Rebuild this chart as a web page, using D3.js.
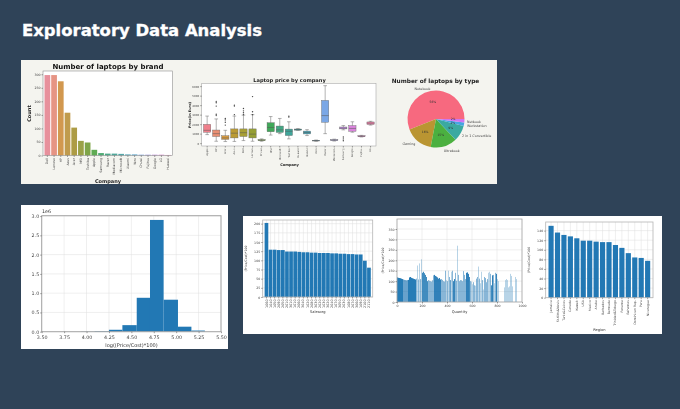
<!DOCTYPE html>
<html>
<head>
<meta charset="utf-8">
<script src="https://cdn.jsdelivr.net/npm/d3@7"></script>
<style>
  html, body { margin: 0; padding: 0; background: #2f4358; }
  svg { display: block; }
  text { font-family: "DejaVu Sans", sans-serif; }
</style>
</head>
<body>
<svg id="chart" width="680" height="409"></svg>
<script>
// brand counts
const brands = [`Dell`, `Lenovo`, `HP`, `Asus`, `Acer`, `MSI`, `Toshiba`, `Apple`, `Samsung`, `Razer`, `Mediacom`, `Microsoft`, `Xiaomi`, `Vero`, `Chuwi`, `Fujitsu`, `Google`, `LG`, `Huawei`]
const brandCounts = [297, 297, 274, 158, 103, 54, 48, 21, 9, 7, 7, 6, 4, 4, 3, 3, 3, 3, 2]
const brandTicks = [0, 50, 100, 150, 200, 250, 300]

// price by company: q1, median, q3, whiskers, outliers
const companies = [`Apple`, `HP`, `Acer`, `Asus`, `Dell`, `Lenovo`, `Chuwi`, `MSI`, `Microsoft`, `Toshiba`, `Huawei`, `Xiaomi`, `Vero`, `Razer`, `Mediacom`, `Samsung`, `Google`, `Fujitsu`, `LG`]
const priceQ1 = [1150, 700, 400, 550, 700, 550, 270, 1200, 1130, 800, 1370, 970, 230, 2200, 280, 1500, 1250, 680, 1970]
const priceMedian = [1350, 1000, 550, 1050, 1100, 950, 310, 1650, 1400, 1250, 1430, 1120, 260, 2900, 320, 1580, 1550, 720, 2100]
const priceQ3 = [1980, 1380, 780, 1500, 1500, 1500, 370, 2150, 1800, 1480, 1490, 1270, 290, 4500, 370, 1700, 1850, 780, 2230]
const priceLow = [900, 200, 170, 180, 270, 200, 200, 850, 1000, 450, 1350, 800, 200, 1000, 220, 1400, 1150, 650, 1900]
const priceHigh = [2850, 2550, 1350, 2850, 2950, 3000, 450, 2800, 2600, 2250, 1530, 1420, 330, 6050, 420, 1850, 2250, 820, 2300]
const priceOutliers = [[], [2900, 3050, 3900, 4250, 4400], [1900, 2200, 2450, 2600], [3000, 3900, 4000], [3000, 3200, 3400, 3650], [3000, 3300, 4900], [], [], [], [2750, 2850], [], [], [], [], [], [250, 450, 650], [], [], []]
const priceTicks = [0, 1000, 2000, 3000, 4000, 5000, 6000]

// laptop types
const laptopTypes = [`Notebook`, `Gaming`, `Ultrabook`, `2 in 1 Convertible`, `Workstation`, `Netbook`]
const typeShares = [56, 16, 15, 9, 2, 2]

// log(Price/Cost*100) histogram
const binEdges = [3.94, 4.09, 4.25, 4.40, 4.56, 4.708, 4.86, 5.02, 5.17, 5.32]
const binCounts = [0.005, 0.015, 0.05, 0.17, 0.88, 2.9, 0.83, 0.13, 0.03]
const histXTicks = [3.5, 3.75, 4, 4.25, 4.5, 4.75, 5, 5.25, 5.5]
const histYTicks = [0, 0.5, 1, 1.5, 2, 2.5, 3]

// margin by sales org
const salesOrgs = [`1060`, `1040`, `1050`, `2090`, `2050`, `2010`, `3010`, `1010`, `2060`, `3040`, `1020`, `2080`, `3030`, `2020`, `1030`, `3020`, `2040`, `1070`, `3050`, `2030`, `1080`, `2070`, `3060`, `1090`, `2100`, `2110`]
const salesOrgMargin = [202, 129, 129, 128, 128, 124, 124, 124, 123, 122, 122, 121, 121, 120, 120, 120, 119, 119, 118, 118, 117, 117, 116, 116, 99, 80]
const marginTicks = [0, 25, 50, 75, 100, 125, 150, 175, 200]

// margin by quantity, one reading per 8 units, with how many records land there
const quantityMargin = [118, 116, 115, 114, 112, 110, 108, 106, 105, 104, 105, 106, 118, 120, 116, 114, 112, 110, 108, 112, 175, 108, 185, 110, 205, 140, 145, 138, 130, 120, 100, 105, 102, 100, 98, 104, 128, 130, 125, 122, 118, 112, 115, 108, 110, 106, 100, 98, 150, 104, 100, 150, 120, 105, 145, 150, 100, 110, 140, 102, 270, 130, 100, 105, 104, 100, 148, 130, 110, 140, 142, 135, 120, 100, 98, 85, 95, 80, 78, 112, 120, 170, 112, 90, 145, 105, 60, 120, 115, 95, 110, 140, 145, 135, 80, 128, 130, 90, 140, 135, 110, 100, 0, 0, 0, 0, 0, 70, 105, 110, 105, 70, 75, 135, 125, 75, 0, 0, 120, 110, 0, 0, 0, 0, 0]
const quantityCounts = [9, 9, 9, 9, 9, 9, 3, 3, 3, 3, 3, 9, 9, 9, 9, 9, 9, 9, 9, 2, 1, 2, 1, 2, 1, 5, 5, 5, 5, 5, 5, 2, 2, 2, 2, 2, 2, 7, 7, 7, 7, 7, 7, 7, 2, 2, 2, 2, 2, 1, 2, 1, 2, 3, 1, 2, 6, 6, 2, 2, 1, 2, 2, 2, 2, 2, 2, 2, 2, 7, 7, 7, 5, 2, 1, 1, 2, 2, 1, 2, 2, 1, 2, 1, 1, 2, 1, 2, 2, 2, 2, 1, 1, 2, 5, 7, 2, 1, 2, 6, 1, 1, 0, 0, 0, 0, 0, 1, 1, 1, 1, 1, 1, 1, 1, 1, 0, 0, 1, 1, 0, 0, 0, 0, 0]
const quantityXTicks = [0, 200, 400, 600, 800, 1000]
const quantityYTicks = [0, 50, 100, 150, 200, 250, 300, 350]

// margin by region
const regions = [`Jamaica`, `St.Kitts&Nevis`, `Turks&Caicos`, `Canada`, `Kuwait`, `USA`, `Mexico`, `Aruba`, `Barbados`, `Bermuda`, `Trinidad&Tobago`, `Panama`, `Bahamas`, `Dominican Rep.`, `Peru`, `Nicaragua`]
const regionMargin = [150, 136, 131, 128, 124, 119, 119, 117, 116, 116, 110, 104, 93, 84, 83, 77]
const regionTicks = [0, 20, 40, 60, 80, 100, 120, 140]

const brandColors = [`#e7909c`, `#e69484`, `#d2984f`, `#c09b4e`, `#ad9c45`, `#9aa146`, `#7fa548`, `#5fab52`, `#4fab73`, `#4ea98a`, `#50a79a`, `#52a6a8`, `#55a5b6`, `#5da5ca`, `#7ea4df`, `#a39bdf`, `#c28fdc`, `#d98bcf`, `#e48db6`]
const boxColors = [`#f0808c`, `#ea8f73`, `#d79a3f`, `#bb9b35`, `#a89f35`, `#969f34`, `#7fa83a`, `#41a85a`, `#43a784`, `#3fa59a`, `#41a4a8`, `#44a4b6`, `#55a4cb`, `#7aa7e6`, `#a69ce8`, `#c68ee6`, `#da84dc`, `#e67fc4`, `#ee82ab`]
const pieColors = [`#f7697f`, `#ba9530`, `#4cb03f`, `#3aa9a1`, `#45a5e2`, `#cd75f2`]
const BAR_BLUE = `#2178b4`

const page = d3.select(`#chart`)
page.append(`defs`).append(`filter`)
  .attr(`id`, `soft`).attr(`x`, 0).attr(`y`, 0).attr(`width`, `100%`).attr(`height`, `100%`)
  .append(`feGaussianBlur`).attr(`stdDeviation`, 0.3)

//
// Background and panels
//

page.append(`rect`).attr(`width`, 680).attr(`height`, 409).attr(`fill`, `#2f4358`)
page.append(`text`)
  .attr(`x`, 22).attr(`y`, 36)
  .attr(`font-size`, 16.5).attr(`font-weight`, `bold`).attr(`fill`, `#ffffff`)
  .attr(`stroke`, `#ffffff`).attr(`stroke-width`, 0.35)
  .attr(`textLength`, 240).attr(`lengthAdjust`, `spacingAndGlyphs`)
  .text(`Exploratory Data Analysis`)

// the source picture is a soft low-res screenshot, so the charts get a slight blur
const svg = page.append(`g`).attr(`filter`, `url(#soft)`)
svg.append(`rect`).attr(`x`, 21).attr(`y`, 60).attr(`width`, 476).attr(`height`, 124).attr(`fill`, `#f4f4ef`)
svg.append(`rect`).attr(`x`, 21).attr(`y`, 205).attr(`width`, 207).attr(`height`, 144).attr(`fill`, `#ffffff`)
svg.append(`rect`).attr(`x`, 243).attr(`y`, 216).attr(`width`, 419).attr(`height`, 118).attr(`fill`, `#ffffff`)

//
// Helpers
//

function frame(box, color, width) {
  svg.append(`rect`)
    .attr(`x`, box.x0).attr(`y`, box.y0)
    .attr(`width`, box.x1 - box.x0).attr(`height`, box.y1 - box.y0)
    .attr(`fill`, `none`).attr(`stroke`, color).attr(`stroke-width`, width)
}

function styleAxis(g, size, color) {
  g.selectAll(`.domain`).remove()
  g.selectAll(`.tick line`).attr(`stroke`, color).attr(`stroke-width`, 0.5)
  g.selectAll(`text`).attr(`font-size`, size).attr(`fill`, color)
}

function yAxis(box, y, ticks, size, fmt) {
  const g = svg.append(`g`).attr(`transform`, `translate(${box.x0},0)`)
    .call(d3.axisLeft(y).tickValues(ticks).tickSize(1.5).tickPadding(1).tickFormat(fmt || d3.format(`d`)))
  styleAxis(g, size, `#444`)
}

function bandAxis(box, x, size) {
  const g = svg.append(`g`).attr(`transform`, `translate(0,${box.y1})`)
    .call(d3.axisBottom(x).tickSize(1.5))
  styleAxis(g, size, `#444`)
  g.selectAll(`text`)
    .attr(`transform`, `rotate(-90)`)
    .attr(`text-anchor`, `end`)
    .attr(`x`, -2.5).attr(`y`, 0).attr(`dy`, `0.32em`)
}

function hGrid(box, y, ticks) {
  svg.append(`g`).selectAll(`line`).data(ticks).join(`line`)
    .attr(`x1`, box.x0).attr(`x2`, box.x1)
    .attr(`y1`, (d) => y(d)).attr(`y2`, (d) => y(d))
    .attr(`stroke`, `#dedede`).attr(`stroke-width`, 0.5)
}

function vGrid(box, xs) {
  svg.append(`g`).selectAll(`line`).data(xs).join(`line`)
    .attr(`x1`, (d) => d).attr(`x2`, (d) => d)
    .attr(`y1`, box.y0).attr(`y2`, box.y1)
    .attr(`stroke`, `#dedede`).attr(`stroke-width`, 0.5)
}

function label(x, y, text, size, opts = {}) {
  const t = svg.append(`text`)
    .attr(`x`, x).attr(`y`, y)
    .attr(`text-anchor`, opts.anchor || `middle`)
    .attr(`font-size`, size)
    .attr(`font-weight`, opts.weight || `normal`)
    .attr(`fill`, opts.color || `#333`)
    .text(text)
  if (opts.rotate) t.attr(`transform`, `rotate(${opts.rotate},${x},${y})`)
  return t
}

function blueBars(box, cats, values, maxY, ticks, xTitle, xTitleY, padding, labelSize) {
  const x = d3.scaleBand().domain(cats).range([box.x0 + 1.5, box.x1 - 1.5]).padding(padding)
  const y = d3.scaleLinear().domain([0, maxY]).range([box.y1, box.y0])
  vGrid(box, cats.map((c) => x(c) + x.bandwidth() / 2))
  hGrid(box, y, ticks)
  svg.append(`g`).selectAll(`rect`).data(values).join(`rect`)
    .attr(`x`, (d, i) => x(cats[i])).attr(`width`, x.bandwidth())
    .attr(`y`, (d) => y(d)).attr(`height`, (d) => box.y1 - y(d))
    .attr(`fill`, BAR_BLUE)
  frame(box, `#b5b5b5`, 0.8)
  yAxis(box, y, ticks, 3.2)
  bandAxis(box, x, labelSize)
  label((box.x0 + box.x1) / 2, xTitleY, xTitle, 3.6)
  label(box.x0 - 15.5, (box.y0 + box.y1) / 2, `(Price/Cost)*100`, 3.2, { rotate: -90 })
}

//
// Number of laptops by brand
//

function drawBrands() {
  const box = { x0: 43, x1: 172.5, y0: 71, y1: 155.5 }
  const x = d3.scaleBand().domain(brands).range([box.x0 + 0.5, box.x1 - 0.5]).padding(0.15)
  const y = d3.scaleLinear().domain([0, 312]).range([box.y1, box.y0])
  svg.append(`rect`).attr(`x`, box.x0).attr(`y`, box.y0).attr(`width`, box.x1 - box.x0).attr(`height`, box.y1 - box.y0).attr(`fill`, `#fff`)
  svg.append(`g`).selectAll(`rect`).data(brandCounts).join(`rect`)
    .attr(`x`, (d, i) => x(brands[i])).attr(`width`, x.bandwidth())
    .attr(`y`, (d) => y(d)).attr(`height`, (d) => box.y1 - y(d))
    .attr(`fill`, (d, i) => brandColors[i])
  frame(box, `#8f8f8f`, 0.6)
  yAxis(box, y, brandTicks, 3.2)
  bandAxis(box, x, 3.2)
  label(108, 69, `Number of laptops by brand`, 7, { weight: `bold`, color: `#111` })
  label(108, 183, `Company`, 5, { weight: `bold`, color: `#222` })
  label(31, 113.5, `Count`, 5, { weight: `bold`, color: `#222`, rotate: -90 })
}

//
// Laptop price by company
//

function drawPrices() {
  const box = { x0: 201.7, x1: 376, y0: 83.3, y1: 146 }
  const x = d3.scaleBand().domain(companies).range([box.x0, box.x1]).padding(0.2)
  const y = d3.scaleLinear().domain([-300, 6300]).range([box.y1, box.y0])
  svg.append(`rect`).attr(`x`, box.x0).attr(`y`, box.y0).attr(`width`, box.x1 - box.x0).attr(`height`, box.y1 - box.y0).attr(`fill`, `#fff`)
  const cx = (i) => x(companies[i]) + x.bandwidth() / 2
  const g = svg.append(`g`)
  companies.forEach((c, i) => {
    g.append(`line`).attr(`x1`, cx(i)).attr(`x2`, cx(i))
      .attr(`y1`, y(priceLow[i])).attr(`y2`, y(priceHigh[i]))
      .attr(`stroke`, `#666`).attr(`stroke-width`, 0.5)
    for (const v of [priceLow[i], priceHigh[i]]) {
      g.append(`line`).attr(`x1`, cx(i) - x.bandwidth() / 4).attr(`x2`, cx(i) + x.bandwidth() / 4)
        .attr(`y1`, y(v)).attr(`y2`, y(v))
        .attr(`stroke`, `#666`).attr(`stroke-width`, 0.5)
    }
    g.append(`rect`).attr(`x`, x(c)).attr(`width`, x.bandwidth())
      .attr(`y`, y(priceQ3[i])).attr(`height`, y(priceQ1[i]) - y(priceQ3[i]))
      .attr(`fill`, boxColors[i]).attr(`stroke`, `#666`).attr(`stroke-width`, 0.4)
    g.append(`line`).attr(`x1`, x(c)).attr(`x2`, x(c) + x.bandwidth())
      .attr(`y1`, y(priceMedian[i])).attr(`y2`, y(priceMedian[i]))
      .attr(`stroke`, `#555`).attr(`stroke-width`, 0.5)
    g.selectAll(null).data(priceOutliers[i]).join(`circle`)
      .attr(`cx`, cx(i)).attr(`cy`, (d) => y(d)).attr(`r`, 0.7).attr(`fill`, `#444`)
  })
  frame(box, `#a8a8a8`, 0.6)
  yAxis(box, y, priceTicks, 2.7)
  bandAxis(box, x, 2.5)
  label(289.5, 82, `Laptop price by company`, 5.1, { weight: `bold`, color: `#222` })
  label(289.5, 166, `Company`, 3.6, { weight: `bold`, color: `#222` })
  label(190.5, 115, `Price(in Euro)`, 3.4, { weight: `bold`, color: `#222`, rotate: -90 })
}

//
// Number of laptops by type
//

function drawTypes() {
  const center = [436, 119]
  const radius = 28.5
  // matplotlib starts at 3 o'clock and turns counter-clockwise
  const pie = d3.pie().sort(null).startAngle(Math.PI / 2).endAngle(Math.PI / 2 - 2 * Math.PI)
  const arc = d3.arc().innerRadius(0).outerRadius(radius)
  const arcs = pie(typeShares)
  const g = svg.append(`g`).attr(`transform`, `translate(${center})`)
  g.selectAll(`path`).data(arcs).join(`path`)
    .attr(`d`, arc).attr(`fill`, (d, i) => pieColors[i])
  const inner = d3.arc().innerRadius(radius * 0.6).outerRadius(radius * 0.6)
  // the two 2% labels sit on top of each other, push them apart a little
  const nudge = [0, 0, 0, 0, 1.2, -1.2]
  g.selectAll(`text.pct`).data(arcs).join(`text`)
    .attr(`class`, `pct`)
    .attr(`transform`, (d, i) => {
      const [px, py] = inner.centroid(d)
      return `translate(${px},${py + nudge[i]})`
    })
    .attr(`text-anchor`, `middle`).attr(`dy`, `0.35em`)
    .attr(`font-size`, 3).attr(`fill`, `#333`)
    .text((d) => `${d.data}%`)
  label(435.5, 83, `Number of laptops by type`, 5.8, { weight: `bold`, color: `#222` })
  const outer = [
    [422.5, 90, `middle`], [409, 144.5, `middle`], [451.7, 151.5, `middle`],
    [462, 137, `start`], [467, 127, `start`], [467, 123, `start`],
  ]
  laptopTypes.forEach((name, i) => {
    label(outer[i][0], outer[i][1], name, 3.3, { anchor: outer[i][2], color: `#444` })
  })
}

//
// Histogram
//

function drawHist() {
  const box = { x0: 41.7, x1: 221, y0: 215.7, y1: 331.7 }
  const x = d3.scaleLinear().domain([3.5, 5.5]).range([box.x0, box.x1])
  const y = d3.scaleLinear().domain([0, 3.01]).range([box.y1, box.y0])
  vGrid(box, histXTicks.map((d) => x(d)))
  hGrid(box, y, histYTicks)
  svg.append(`g`).selectAll(`rect`).data(binCounts).join(`rect`)
    .attr(`x`, (d, i) => x(binEdges[i])).attr(`width`, (d, i) => x(binEdges[i + 1]) - x(binEdges[i]))
    .attr(`y`, (d) => y(d)).attr(`height`, (d) => box.y1 - y(d))
    .attr(`fill`, BAR_BLUE)
  frame(box, `#a5a5a5`, 1)
  yAxis(box, y, histYTicks, 4.8, d3.format(`.1f`))
  const g = svg.append(`g`).attr(`transform`, `translate(0,${box.y1})`)
    .call(d3.axisBottom(x).tickValues(histXTicks).tickSize(1.5).tickPadding(2.5).tickFormat(d3.format(`.2f`)))
  styleAxis(g, 4.8, `#444`)
  label(131.5, 346.5, `log((Price/Cost)*100)`, 5)
  label(42, 213, `1e6`, 4.8, { anchor: `start` })
}

//
// Margin by quantity
//

function drawQuantity() {
  const box = { x0: 397, x1: 522, y0: 219, y1: 302 }
  const x = d3.scaleLinear().domain([0, 1000]).range([box.x0, box.x1])
  const y = d3.scaleLinear().domain([0, 398]).range([box.y1, box.y0])
  vGrid(box, quantityXTicks.map((d) => x(d)))
  hGrid(box, y, quantityYTicks)
  const shade = (n) => 1 - Math.pow(0.68, n)
  svg.append(`g`).selectAll(`rect`).data(quantityMargin).join(`rect`)
    .attr(`x`, (d, i) => x(i * 8)).attr(`width`, x(8) - x(0))
    .attr(`y`, (d) => y(d)).attr(`height`, (d) => box.y1 - y(d))
    .attr(`fill`, BAR_BLUE)
    .attr(`fill-opacity`, (d, i) => shade(quantityCounts[i]))
  frame(box, `#a8a8a8`, 0.8)
  yAxis(box, y, quantityYTicks, 3.2)
  const g = svg.append(`g`).attr(`transform`, `translate(0,${box.y1})`)
    .call(d3.axisBottom(x).tickValues(quantityXTicks).tickSize(1.5).tickPadding(1).tickFormat(d3.format(`d`)))
  styleAxis(g, 3.2, `#444`)
  label(459.5, 312.5, `Quantity`, 3.6)
  label(384, 260.5, `(Price/Cost)*100`, 3.2, { rotate: -90 })
}

drawBrands()
drawPrices()
drawTypes()
drawHist()
blueBars({ x0: 262.7, x1: 372.7, y0: 220, y1: 297 }, salesOrgs, salesOrgMargin, 210, marginTicks, `Salesorg`, 312.5, 0.1, 3.3)
drawQuantity()
blueBars({ x0: 545.7, x1: 653, y0: 222, y1: 297.7 }, regions, regionMargin, 158, regionTicks, `Region`, 331, 0.2, 3.1)
</script>
</body>
</html>
